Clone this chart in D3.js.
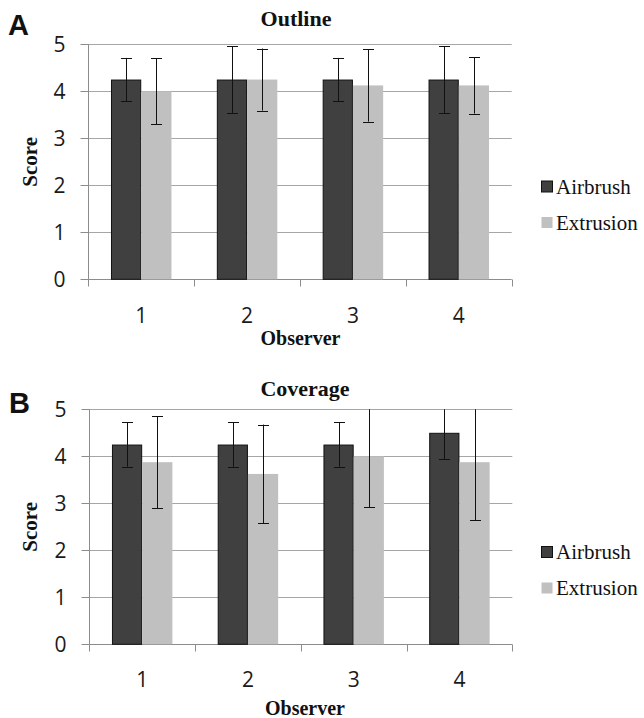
<!DOCTYPE html>
<html><head><meta charset="utf-8">
<script src="https://cdn.jsdelivr.net/npm/d3@7"></script>
<style>
html,body{margin:0;padding:0;background:#fff;}
svg{display:block;}
</style></head>
<body>
<script>
// ---- data ----
const categories = ["1", "2", "3", "4"];
const seriesNames = ["Airbrush", "Extrusion"];
const yTicks = [0, 1, 2, 3, 4, 5];

const outlineAirbrush = [4.25, 4.25, 4.25, 4.25];
const outlineAirbrushErr = [0.46, 0.71, 0.46, 0.71];
const outlineExtrusion = [4.0, 4.25, 4.125, 4.125];
const outlineExtrusionErr = [0.7, 0.66, 0.77, 0.6];

const coverageAirbrush = [4.25, 4.25, 4.25, 4.5];
const coverageAirbrushErr = [0.47, 0.47, 0.47, 0.56];
const coverageExtrusion = [3.875, 3.625, 4.0, 3.875];
const coverageExtrusionErr = [0.98, 1.05, 1.08, 1.24];

const panels = [
  {letter: "A", title: "Outline", values: [outlineAirbrush, outlineExtrusion], errs: [outlineAirbrushErr, outlineExtrusionErr]},
  {letter: "B", title: "Coverage", values: [coverageAirbrush, coverageExtrusion], errs: [coverageAirbrushErr, coverageExtrusionErr]}
];

// ---- layout ----
const W = 644, H = 718;
const layouts = [
  {x0: 88.3, x1: 511.7, yTop: 44.3, yBot: 279.3, letterX: 8, letterY: 35, titleX: 296, titleY: 26, xlabX: 300.5, xlabY: 345, tickY: 323, legY: 186.5},
  {x0: 89.3, x1: 512.3, yTop: 409.3, yBot: 644.3, letterX: 9, letterY: 413, titleX: 305, titleY: 396, xlabX: 305, xlabY: 715, tickY: 687, legY: 552}
];
const colors = {Airbrush: "#404040", Extrusion: "#c0c0c0"};
const gridColor = "#a6a6a6";
const axisColor = "#8c8c8c";

const svg = d3.select("body").append("svg").attr("width", W).attr("height", H);

panels.forEach((p, pi) => {
  const L = layouts[pi];
  const g = svg.append("g");
  const x = d3.scaleBand().domain(categories).range([L.x0, L.x1]).padding(0);
  const xs = d3.scaleBand().domain(seriesNames).range([0, x.bandwidth()]).paddingInner(0).paddingOuter(0.75);
  const y = d3.scaleLinear().domain([0, 5]).range([L.yBot, L.yTop]);

  // gridlines
  g.selectAll(".grid").data(yTicks.filter(t => t > 0)).join("line")
    .attr("x1", L.x0).attr("x2", L.x1)
    .attr("y1", d => Math.round(y(d)) + 0.5).attr("y2", d => Math.round(y(d)) + 0.5)
    .attr("stroke", gridColor).attr("stroke-width", 1);

  // y axis
  const yAxis = d3.axisLeft(y).tickValues(yTicks).tickSize(8).tickPadding(15).tickFormat(d3.format("d"));
  const ya = g.append("g").attr("transform", `translate(${Math.round(L.x0) + 0.5},0)`).call(yAxis);
  ya.select(".domain").attr("stroke", axisColor).attr("d", `M0,${L.yTop}V${L.yBot}`);
  ya.selectAll(".tick line").attr("stroke", axisColor);
  ya.selectAll(".tick").attr("transform", d => `translate(0,${Math.round(y(d)) + 0.5})`);
  ya.selectAll(".tick text").attr("font-family", "'Open Sans', 'DejaVu Sans', sans-serif").attr("font-size", 21).attr("fill", "#1a1a1a").attr("dy", "0.36em");

  // x axis
  const xAxis = d3.axisBottom(x).tickSize(0).tickPadding(0);
  const xa = g.append("g").attr("transform", `translate(0,${Math.round(L.yBot) + 0.5})`).call(xAxis);
  xa.select(".domain").attr("stroke", axisColor).attr("d", `M${L.x0},0H${L.x1}`);
  xa.selectAll(".tick text").attr("font-family", "'Open Sans', 'DejaVu Sans', sans-serif").attr("font-size", 21).attr("fill", "#1a1a1a")
    .attr("y", L.tickY - Math.round(L.yBot) - 0.5).attr("dy", 0);
  // category boundary ticks
  const bounds = categories.map(c => x(c)).concat([x(categories[categories.length - 1]) + x.bandwidth()]);
  xa.selectAll(".bt").data(bounds).join("line")
    .attr("x1", d => Math.round(d) + 0.5).attr("x2", d => Math.round(d) + 0.5)
    .attr("y1", 0).attr("y2", 7).attr("stroke", axisColor);

  // bars
  seriesNames.forEach((s, si) => {
    const vals = p.values[si], errs = p.errs[si];
    const data = categories.map((c, i) => ({c, v: vals[i], e: errs[i]}));
    g.selectAll(".bar" + si).data(data).join("rect")
      .attr("x", d => x(d.c) + xs(s) + (si === 0 ? 0.5 : 0))
      .attr("y", d => y(d.v) + (si === 0 ? 0.5 : 0))
      .attr("width", xs.bandwidth() - (si === 0 ? 1 : 0))
      .attr("height", d => y(0) - y(d.v) - (si === 0 ? 0.5 : 0))
      .attr("fill", colors[s])
      .attr("stroke", si === 0 ? "#111" : "none").attr("stroke-width", 1);
  });

  // error bars
  seriesNames.forEach((s, si) => {
    const vals = p.values[si], errs = p.errs[si];
    const data = categories.map((c, i) => ({c, v: vals[i], e: errs[i]}));
    const eg = g.selectAll(".err" + si).data(data).join("g");
    const cx = d => Math.round(x(d.c) + xs(s) + xs.bandwidth() / 2) + 0.5;
    const hi = d => Math.max(y(d.v + d.e), y(5));
    const lo = d => Math.min(y(d.v - d.e), y(0));
    eg.append("line").attr("x1", cx).attr("x2", cx).attr("y1", hi).attr("y2", lo).attr("stroke", "#111").attr("stroke-width", 1);
    eg.filter(d => d.v + d.e <= 5).append("line")
      .attr("x1", d => cx(d) - 5.5).attr("x2", d => cx(d) + 5.5)
      .attr("y1", d => Math.round(hi(d)) + 0.5).attr("y2", d => Math.round(hi(d)) + 0.5).attr("stroke", "#111");
    eg.append("line")
      .attr("x1", d => cx(d) - 5.5).attr("x2", d => cx(d) + 5.5)
      .attr("y1", d => Math.round(lo(d)) + 0.5).attr("y2", d => Math.round(lo(d)) + 0.5).attr("stroke", "#111");
  });

  // titles and labels
  g.append("text").attr("x", L.letterX).attr("y", L.letterY).text(p.letter)
    .attr("font-family", "'Liberation Sans', Arial, sans-serif").attr("font-weight", "bold").attr("font-size", 29).attr("fill", "#111");
  g.append("text").attr("x", L.titleX).attr("y", L.titleY).attr("text-anchor", "middle").text(p.title)
    .attr("font-family", "'Liberation Serif', 'Times New Roman', serif").attr("font-weight", "bold").attr("font-size", 22).attr("fill", "#111");
  g.append("text").attr("x", L.xlabX).attr("y", L.xlabY).attr("text-anchor", "middle").text("Observer")
    .attr("font-family", "'Liberation Serif', 'Times New Roman', serif").attr("font-weight", "bold").attr("font-size", 20).attr("fill", "#111");
  g.append("text").attr("transform", `translate(37,${(L.yTop + L.yBot) / 2}) rotate(-90)`).attr("text-anchor", "middle").text("Score")
    .attr("font-family", "'Liberation Serif', 'Times New Roman', serif").attr("font-weight", "bold").attr("font-size", 21).attr("fill", "#111");

  // legend
  const lg = g.append("g").attr("transform", `translate(541,${L.legY})`);
  seriesNames.forEach((s, si) => {
    const row = lg.append("g").attr("transform", `translate(0,${si * 36})`);
    row.append("rect").attr("x", 0.5).attr("y", -5.5).attr("width", 11).attr("height", 11)
      .attr("fill", colors[s]).attr("stroke", si === 0 ? "#111" : "none");
    row.append("text").attr("x", 15).attr("y", 7).text(s)
      .attr("font-family", "'Liberation Serif', 'Times New Roman', serif").attr("font-size", 21).attr("fill", "#111");
  });
});
</script>
</body></html>
